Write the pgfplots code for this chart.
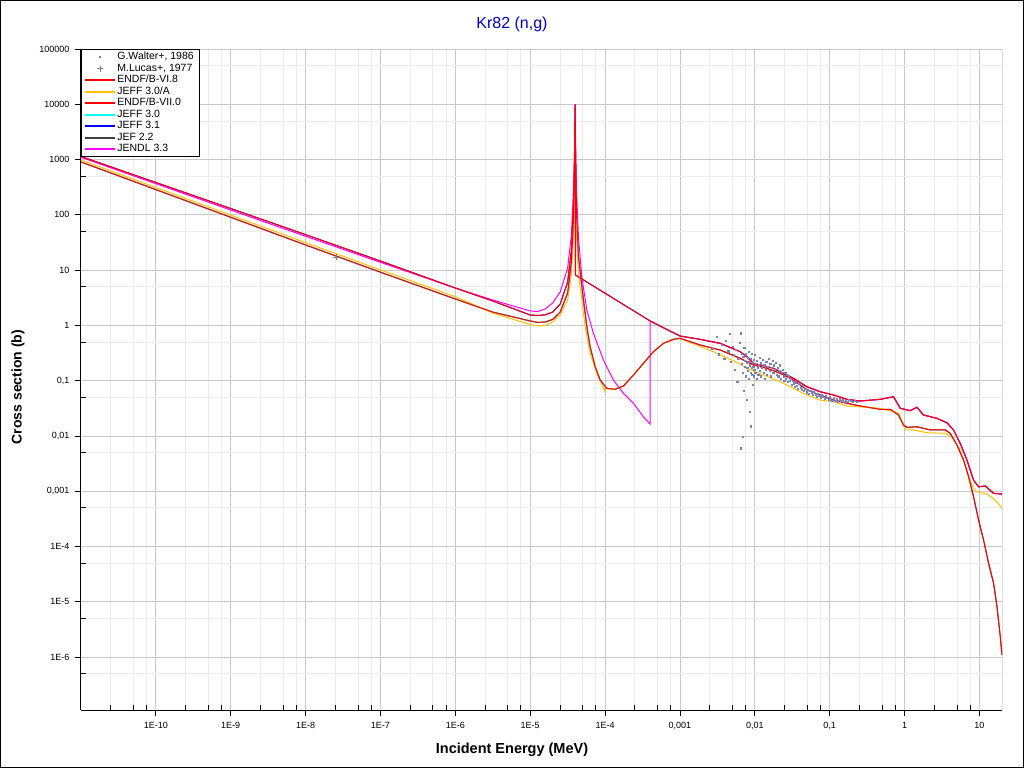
\documentclass[border=0pt]{standalone}
\usepackage{fontspec}
\setmainfont{Liberation Sans}
\usepackage{pgfplots}
\pgfplotsset{compat=1.18}
\definecolor{cRed}{RGB}{255,0,0}
\definecolor{cOrange}{RGB}{255,192,0}
\definecolor{cCyan}{RGB}{0,255,255}
\definecolor{cBlue}{RGB}{0,0,255}
\definecolor{cGray}{RGB}{64,64,64}
\definecolor{cMag}{RGB}{255,0,255}
\definecolor{cDot}{RGB}{120,130,190}
\definecolor{cTitle}{RGB}{0,0,200}
\definecolor{cGridMaj}{RGB}{200,200,200}
\definecolor{cGridMin}{RGB}{236,236,236}
\pgfplotsset{
  marklegend/.style={legend image code/.code={\draw[##1] plot coordinates {(15pt,0pt)};}},
  linelegend/.style={legend image code/.code={\fill[##1, draw=none] (0pt,-1pt) rectangle (30pt,1pt);}},
}
\begin{document}
\begin{tikzpicture}[x=1pt,y=1pt]
\fill[white] (0,0) rectangle (1024,768);
\begin{axis}[
  at={(81pt,58pt)}, anchor=south west,
  scale only axis, width=921pt, height=661pt,
  xmode=log, ymode=log,
  xmin=1e-11, xmax=20, ymin=1.1e-7, ymax=1e5,
  axis x line*=bottom, axis y line*=left,
  axis line style={-, line width=1pt, black},
  xtick={1e-10,1e-9,1e-8,1e-7,1e-6,1e-5,1e-4,1e-3,1e-2,1e-1,1,10},
  xticklabels={1E-10,1E-9,1E-8,1E-7,1E-6,1E-5,1E-4,{0,001},{0,01},{0,1},1,10},
  minor xtick={2.5e-11,5e-11,7.5e-11,2.5e-10,5e-10,7.5e-10,2.5e-9,5e-9,7.5e-9,2.5e-8,5e-8,7.5e-8,2.5e-7,5e-7,7.5e-7,2.5e-6,5e-6,7.5e-6,2.5e-5,5e-5,7.5e-5,2.5e-4,5e-4,7.5e-4,2.5e-3,5e-3,7.5e-3,0.025,0.05,0.075,0.25,0.5,0.75,2.5,5,7.5},
  ytick={1e-6,1e-5,1e-4,1e-3,1e-2,1e-1,1,10,100,1000,10000,100000},
  yticklabels={1E-6,1E-5,1E-4,{0,001},{0,01},{0,1},1,10,100,1000,10000,100000},
  minor ytick={5e-7,5e-6,5e-5,5e-4,5e-3,5e-2,0.5,5,50,500,5000,50000},
  grid=both,
  major grid style={cGridMaj, line width=0.8pt},
  minor grid style={cGridMin, line width=0.8pt},
  tick align=outside,
  major tick length=6pt, minor tick length=5pt,
  tick style={black, line width=0.8pt},
  minor x tick style={yshift=5pt},
  minor y tick style={xshift=5pt},
  tick label style={font=\fontsize{9}{10}\selectfont},
  /pgf/number format/assume math mode=true,
  xticklabel style={yshift=-3pt},
  yticklabel style={xshift=-2pt},
  legend style={at={(0,1)}, anchor=north west, draw, line width=0.8pt,
    font=\fontsize{10.5}{11}\selectfont, fill=white,
    nodes={text height=7.5pt, text depth=2pt, inner ysep=1pt, inner xsep=2pt},
    /tikz/every even column/.append style={column sep=4pt},
    inner xsep=4pt, inner ysep=2pt, cells={anchor=west}},
]
% G.Walter+, 1986
\addplot[only marks, mark=square*, mark size=0.6pt, draw=cDot, fill=cDot, forget plot] coordinates {
(0.0027,0.38) (0.0031,0.62) (0.0033,0.30) (0.0036,0.45) (0.0039,0.25) (0.0041,0.52)
(0.0044,0.34) (0.0046,0.71) (0.0048,0.22) (0.0050,0.41) (0.0052,0.29) (0.0054,0.16)
(0.0056,0.36) (0.0058,0.095) (0.0060,0.25) (0.0062,0.48) (0.0064,0.72) (0.0065,0.0060)
(0.0066,0.31) (0.0067,0.20) (0.0068,0.14) (0.0069,0.0097) (0.0070,0.27) (0.0071,0.065)
(0.0072,0.39) (0.0073,0.18) (0.0074,0.23) (0.0075,0.12) (0.0076,0.30) (0.0077,0.21)
(0.0078,0.045) (0.0079,0.17) (0.0080,0.26) (0.0081,0.15) (0.0082,0.33) (0.0083,0.11)
(0.0084,0.22) (0.0085,0.19) (0.0086,0.027) (0.0087,0.14) (0.0088,0.25) (0.0089,0.015)
(0.0090,0.17) (0.0091,0.31) (0.0092,0.13) (0.0093,0.21) (0.0094,0.085) (0.0095,0.18)
(0.0096,0.24) (0.0097,0.12) (0.0098,0.16) (0.0099,0.29) (0.0101,0.14) (0.0103,0.20)
(0.0105,0.11) (0.0107,0.23) (0.0109,0.17) (0.0111,0.13) (0.0113,0.19) (0.0115,0.26)
(0.0117,0.15) (0.0119,0.21) (0.0121,0.12) (0.0124,0.17) (0.0127,0.24) (0.0130,0.14)
(0.0133,0.19) (0.0136,0.11) (0.0139,0.16) (0.0142,0.22) (0.0145,0.13) (0.0148,0.18)
(0.0152,0.25) (0.0156,0.15) (0.0160,0.20) (0.0164,0.12) (0.0168,0.17) (0.0172,0.23)
(0.0176,0.14) (0.0180,0.19) (0.0185,0.16) (0.0190,0.21) (0.0195,0.13) (0.0200,0.17)
(0.0205,0.12) (0.0211,0.15) (0.0217,0.19) (0.0223,0.11) (0.0229,0.14) (0.0235,0.16)
(0.0241,0.12) (0.0247,0.10) (0.0254,0.14) (0.0261,0.11) (0.0268,0.13) (0.0275,0.095)
(0.0283,0.12) (0.0291,0.10) (0.0300,0.11) (0.0310,0.085) (0.0320,0.10) (0.0330,0.090)
(0.0340,0.078) (0.0352,0.094) (0.0365,0.082) (0.0378,0.071) (0.0392,0.088) (0.0406,0.075)
(0.0421,0.068) (0.0437,0.080) (0.0453,0.065) (0.0470,0.072) (0.0488,0.062) (0.0507,0.069)
(0.0527,0.058) (0.0548,0.066) (0.0570,0.060) (0.0593,0.055) (0.0617,0.063) (0.0642,0.057)
(0.0668,0.052) (0.0695,0.059) (0.0723,0.054) (0.0752,0.050) (0.0783,0.056) (0.0815,0.051)
(0.0848,0.047) (0.0883,0.053) (0.0920,0.049) (0.0958,0.045) (0.0998,0.050) (0.104,0.046)
(0.108,0.043) (0.113,0.048) (0.118,0.044) (0.123,0.047) (0.129,0.042) (0.135,0.046)
(0.141,0.043) (0.148,0.045) (0.155,0.041) (0.163,0.044) (0.172,0.042) (0.181,0.045)
(0.191,0.043) (0.202,0.041) (0.214,0.044) (0.227,0.042)
};
% M.Lucas+, 1977
\addplot[only marks, mark=+, mark size=3pt, draw=gray, forget plot] coordinates {(2.53e-8,17)};
% JEF 2.2 (hidden under ENDF/B-VI.8)
\addplot[draw=cGray, line width=1pt, forget plot] coordinates {
(1e-11,903) (1e-10,286) (1e-9,90.2) (1e-8,28.5) (1e-7,9.16) (1e-6,3.0) (3.162e-6,1.74) (1e-5,1.2)
(1.259e-5,1.13) (1.585e-5,1.15) (1.995e-5,1.28) (2.512e-5,1.74) (3.162e-5,3.85) (3.548e-5,14.0)
(3.802e-5,99) (3.936e-5,1488) (3.981e-5,9000) (4.026e-5,1488) (4.16e-5,99) (4.406e-5,17.5)
(5.14e-5,2.88) (5.70e-5,0.945) (6.31e-5,0.411) (7.36e-5,0.179) (8.59e-5,0.1026) (1.054e-4,0.0726)
(1.361e-4,0.0697) (1.758e-4,0.080) (2.393e-4,0.1264) (3.251e-4,0.2057) (4.426e-4,0.334)
(6.026e-4,0.473) (8.185e-4,0.559) (1e-3,0.583) (1.862e-3,0.441) (3.443e-3,0.358)
(6.368e-3,0.2535) (9.594e-3,0.192) (1.449e-2,0.167) (2.183e-2,0.1356) (3.281e-2,0.1026)
(4.955e-2,0.0676) (7.464e-2,0.0549) (0.1125,0.0446) (0.1698,0.0389) (0.2559,0.0348)
(0.4732,0.0303) (0.6442,0.0303) (0.8299,0.0239) (0.9683,0.01574) (1.076,0.01429) (1.462,0.01466)
(2.203,0.0128) (3.491,0.0128) (4.074,0.01114) (5.0,0.00684) (6.138,0.00366) (7.161,0.00183)
(8.337,0.000794) (9.727,0.000301) (11.35,0.0001306) (13.24,4.95e-5) (15.45,2.15e-5)
(17.14,8.11e-6) (18.97,2.33e-6) (20,1.09e-6)
};
% JEFF 3.1 (hidden under ENDF/B-VII.0)
\addplot[draw=cBlue, line width=1pt, forget plot] coordinates {
(1e-11,1135) (1e-10,384) (1e-9,130) (1e-8,43.8) (1e-7,14.6) (1e-6,4.74) (3.162e-6,2.76) (1e-5,1.54)
(1.259e-5,1.51) (1.585e-5,1.55) (1.995e-5,1.74) (2.512e-5,2.43) (3.162e-5,6.08) (3.548e-5,23.1)
(3.802e-5,185) (3.936e-5,1488) (3.981e-5,10000) (4.02e-5,8.15) (4.0e-4,1.2) (1e-3,0.641)
(1.862e-3,0.559) (3.443e-3,0.473) (6.368e-3,0.334) (7.834e-3,0.271) (9.594e-3,0.206)
(1.774e-2,0.167) (3.281e-2,0.110) (4.955e-2,0.0776) (7.464e-2,0.063) (0.1125,0.0549)
(0.1698,0.0459) (0.2559,0.0428) (0.4732,0.0459) (0.7112,0.0512) (0.8750,0.0316) (1.189,0.0286)
(1.462,0.0329) (1.791,0.0239) (2.704,0.0208) (3.681,0.0173) (4.508,0.0128) (5.534,0.00734)
(6.808,0.00366) (8.337,0.00159) (9.727,0.00120) (11.97,0.00124) (15.45,0.000914) (20,0.000889)
};
% JEFF 3.0 (hidden under ENDF/B-VI.8)
\addplot[draw=cCyan, line width=1pt, forget plot] coordinates {
(1e-11,903) (1e-10,286) (1e-9,90.2) (1e-8,28.5) (1e-7,9.16) (1e-6,3.0) (3.162e-6,1.74) (1e-5,1.2)
(1.259e-5,1.13) (1.585e-5,1.15) (1.995e-5,1.28) (2.512e-5,1.74) (3.162e-5,3.85) (3.548e-5,14.0)
(3.802e-5,99) (3.936e-5,1488) (3.981e-5,9000) (4.026e-5,1488) (4.16e-5,99) (4.406e-5,17.5)
(5.14e-5,2.88) (5.70e-5,0.945) (6.31e-5,0.411) (7.36e-5,0.179) (8.59e-5,0.1026) (1.054e-4,0.0726)
(1.361e-4,0.0697) (1.758e-4,0.080) (2.393e-4,0.1264) (3.251e-4,0.2057) (4.426e-4,0.334)
(6.026e-4,0.473) (8.185e-4,0.559) (1e-3,0.583)
};
% JEFF 3.0/A
\addplot[draw=cOrange, line width=1pt, forget plot] coordinates {
(1e-11,981) (1e-10,312) (1e-9,98.8) (1e-8,31.4) (1e-7,10.1) (1e-6,3.30) (3.162e-6,1.67) (1e-5,1.036)
(1.259e-5,0.973) (1.585e-5,1.0) (1.995e-5,1.15) (2.512e-5,1.54) (3.162e-5,2.88) (3.548e-5,8.15)
(3.802e-5,53) (3.936e-5,185) (3.981e-5,281) (4.026e-5,185) (4.16e-5,40) (4.406e-5,8)
(4.887e-5,2.88) (5.408e-5,0.945) (6.31e-5,0.312) (7.762e-5,0.1356) (1.0e-4,0.063) (1.0e-4,0.073)
(1.054e-4,0.0726) (1.361e-4,0.0697) (1.758e-4,0.080) (2.393e-4,0.1264) (3.251e-4,0.2057)
(4.426e-4,0.334) (6.026e-4,0.473) (8.185e-4,0.559) (1e-3,0.583) (2.805e-3,0.334)
(6.368e-3,0.200) (7.834e-3,0.167) (2.183e-2,0.0956) (4.955e-2,0.0549) (7.464e-2,0.0446)
(0.1125,0.0416) (0.1698,0.0348) (0.4732,0.0316) (0.8299,0.0259) (1.021,0.0128) (1.318,0.0128)
(1.991,0.01143) (3.491,0.01114) (4.295,0.00943) (5.534,0.00556) (7.161,0.00183) (8.337,0.001127)
(9.268,0.000977) (12.59,0.000889) (16.26,0.000692) (20,0.00049)
};
% JENDL 3.3
\addplot[draw=cMag, line width=1pt, forget plot] coordinates {
(1e-11,1098) (1e-10,366) (1e-9,122) (1e-8,40.9) (1e-7,13.8) (1e-6,4.74) (3.162e-6,2.88) (1e-5,1.82)
(1.259e-5,1.78) (1.585e-5,1.98) (1.995e-5,2.54) (2.512e-5,4.01) (3.162e-5,10.9) (3.548e-5,43.1)
(3.802e-5,346) (3.936e-5,2257) (3.981e-5,10000) (4.026e-5,2257) (4.16e-5,250) (4.406e-5,40)
(4.887e-5,7.59) (5.70e-5,1.90) (6.982e-5,0.718) (9.506e-5,0.236) (1.291e-4,0.1026)
(1.758e-4,0.059) (2.393e-4,0.0389) (3.251e-4,0.0222) (4.0e-4,0.0164) (4.0e-4,1.2) (1e-3,0.641)
(1.862e-3,0.559) (3.443e-3,0.473) (6.368e-3,0.334) (7.834e-3,0.271) (9.594e-3,0.206)
(1.774e-2,0.167) (3.281e-2,0.110) (4.955e-2,0.0776) (7.464e-2,0.063) (0.1125,0.0549)
(0.1698,0.0459) (0.2559,0.0428) (0.4732,0.0459) (0.7112,0.0512) (0.8750,0.0316) (1.189,0.0286)
(1.462,0.0329) (1.791,0.0239) (2.704,0.0208) (3.681,0.0173) (4.508,0.0128) (5.534,0.00734)
(6.808,0.00366) (8.337,0.00159) (9.727,0.00120) (11.97,0.00124) (15.45,0.000914) (20,0.000889)
};
% ENDF/B-VI.8
\addplot[draw=cRed, line width=1pt, forget plot] coordinates {
(1e-11,903) (1e-10,286) (1e-9,90.2) (1e-8,28.5) (1e-7,9.16) (1e-6,3.0) (3.162e-6,1.74) (1e-5,1.2)
(1.259e-5,1.13) (1.585e-5,1.15) (1.995e-5,1.28) (2.512e-5,1.74) (3.162e-5,3.85) (3.548e-5,14.0)
(3.802e-5,99) (3.936e-5,1488) (3.981e-5,9000) (4.026e-5,1488) (4.16e-5,99) (4.406e-5,17.5)
(5.14e-5,2.88) (5.70e-5,0.945) (6.31e-5,0.411) (7.36e-5,0.179) (8.59e-5,0.1026) (1.054e-4,0.0726)
(1.361e-4,0.0697) (1.758e-4,0.080) (2.393e-4,0.1264) (3.251e-4,0.2057) (4.426e-4,0.334)
(6.026e-4,0.473) (8.185e-4,0.559) (1e-3,0.583) (1.862e-3,0.441) (3.443e-3,0.358)
(6.368e-3,0.2535) (9.594e-3,0.192) (1.449e-2,0.167) (2.183e-2,0.1356) (3.281e-2,0.1026)
(4.955e-2,0.0676) (7.464e-2,0.0549) (0.1125,0.0446) (0.1698,0.0389) (0.2559,0.0348)
(0.4732,0.0303) (0.6442,0.0303) (0.8299,0.0239) (0.9683,0.01574) (1.076,0.01429) (1.462,0.01466)
(2.203,0.0128) (3.491,0.0128) (4.074,0.01114) (5.0,0.00684) (6.138,0.00366) (7.161,0.00183)
(8.337,0.000794) (9.727,0.000301) (11.35,0.0001306) (13.24,4.95e-5) (15.45,2.15e-5)
(17.14,8.11e-6) (18.97,2.33e-6) (20,1.09e-6)
};
% ENDF/B-VII.0
\addplot[draw=cRed, line width=1pt, forget plot] coordinates {
(1e-11,1135) (1e-10,384) (1e-9,130) (1e-8,43.8) (1e-7,14.6) (1e-6,4.74) (3.162e-6,2.76) (1e-5,1.54)
(1.259e-5,1.51) (1.585e-5,1.55) (1.995e-5,1.74) (2.512e-5,2.43) (3.162e-5,6.08) (3.548e-5,23.1)
(3.802e-5,185) (3.936e-5,1488) (3.981e-5,10000) (4.02e-5,8.15) (4.0e-4,1.2) (1e-3,0.641)
(1.862e-3,0.559) (3.443e-3,0.473) (6.368e-3,0.334) (7.834e-3,0.271) (9.594e-3,0.206)
(1.774e-2,0.167) (3.281e-2,0.110) (4.955e-2,0.0776) (7.464e-2,0.063) (0.1125,0.0549)
(0.1698,0.0459) (0.2559,0.0428) (0.4732,0.0459) (0.7112,0.0512) (0.8750,0.0316) (1.189,0.0286)
(1.462,0.0329) (1.791,0.0239) (2.704,0.0208) (3.681,0.0173) (4.508,0.0128) (5.534,0.00734)
(6.808,0.00366) (8.337,0.00159) (9.727,0.00120) (11.97,0.00124) (15.45,0.000914) (20,0.000889)
};
% legend entries
\addlegendimage{only marks, mark=square*, mark size=0.5pt, draw=gray, fill=gray, marklegend}
\addlegendentry{G.Walter+, 1986}
\addlegendimage{only marks, mark=+, mark size=3pt, draw=gray, marklegend}
\addlegendentry{M.Lucas+, 1977}
\addlegendimage{fill=cRed, linelegend}
\addlegendentry{ENDF/B-VI.8}
\addlegendimage{fill=cOrange, linelegend}
\addlegendentry{JEFF 3.0/A}
\addlegendimage{fill=cRed, linelegend}
\addlegendentry{ENDF/B-VII.0}
\addlegendimage{fill=cCyan, linelegend}
\addlegendentry{JEFF 3.0}
\addlegendimage{fill=cBlue, linelegend}
\addlegendentry{JEFF 3.1}
\addlegendimage{fill=cGray, linelegend}
\addlegendentry{JEF 2.2}
\addlegendimage{fill=cMag, linelegend}
\addlegendentry{JENDL 3.3}
\draw[black, line width=1pt] (rel axis cs:1,0) -- (rel axis cs:1,1);
\end{axis}
\draw[black, line width=1pt] (0.5,0.5) rectangle (1023.5,767.5);
\node[text=cTitle, font=\fontsize{16}{18}\selectfont] at (512,744) {Kr82 (n,g)};
\node[font=\bfseries\fontsize{14.5}{16}\selectfont] at (512,18) {Incident Energy (MeV)};
\node[font=\bfseries\fontsize{14}{16}\selectfont, rotate=90] at (18,381) {Cross section (b)};
\end{tikzpicture}
\end{document}
